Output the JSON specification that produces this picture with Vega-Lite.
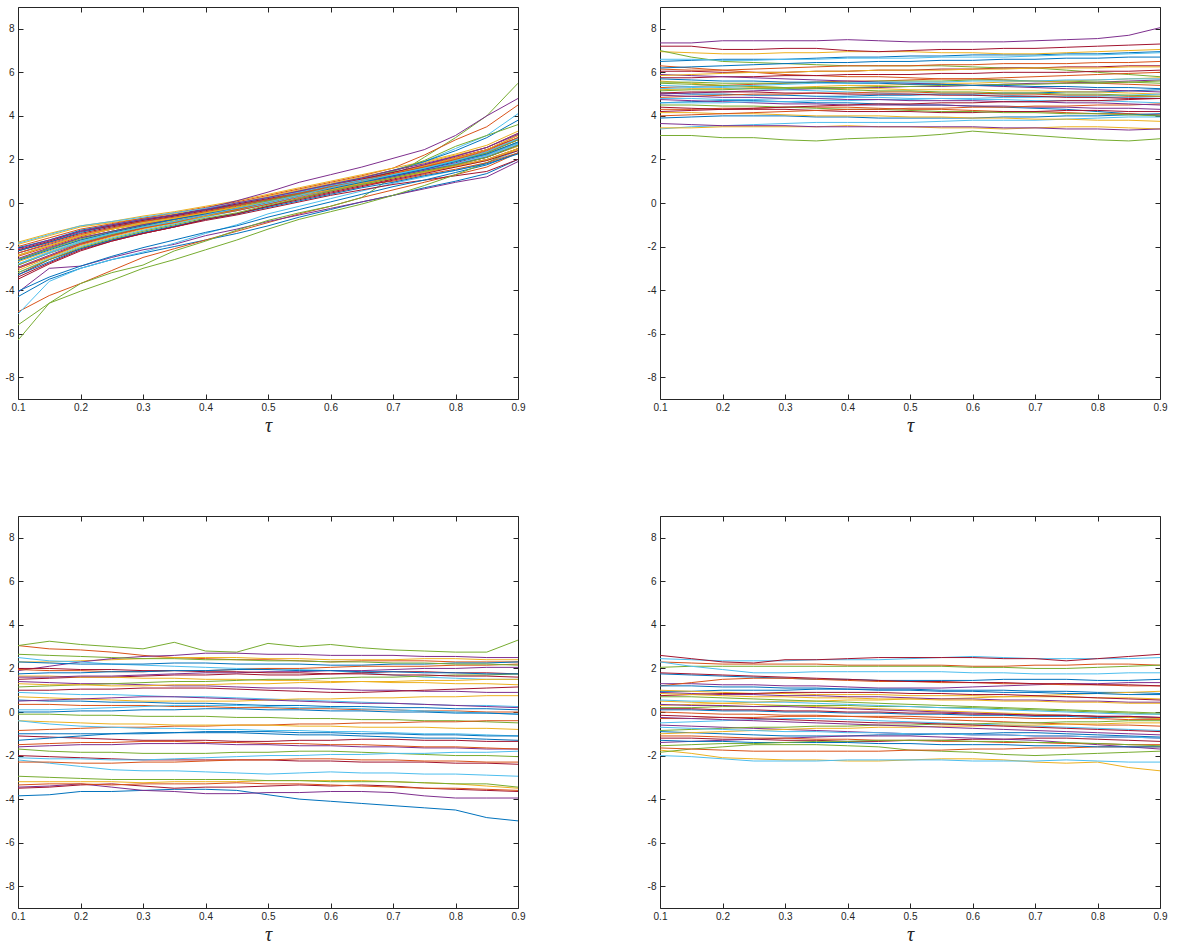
{
"$schema":"https://vega.github.io/schema/vega-lite/v6.json",
"padding":{"left":5,"top":6,"right":5,"bottom":5},
"background":"white",
"config":{"view":{"stroke":null},"concat":{"spacing":122},
"axis":{"grid":false,"domainColor":"#262626","tickColor":"#262626","labelColor":"#262626","labelFont":"Liberation Sans","labelFontSize":10,"tickSize":-5,"labelPadding":9,"labelFlush":false,"labelOverlap":false,"domainWidth":1,"tickWidth":1,"titleFont":"Liberation Serif","titleFontStyle":"italic","titleFontWeight":"normal","titleFontSize":20,"titleColor":"#262626","titlePadding":3},
"axisX":{"labelPadding":8}},
"datasets":{
"taus":[{"key":"a","t":0.1},{"key":"b","t":0.15},{"key":"c","t":0.2},{"key":"d","t":0.25},{"key":"e","t":0.3},{"key":"f","t":0.35},{"key":"g","t":0.4},{"key":"h","t":0.45},{"key":"i","t":0.5},{"key":"j","t":0.55},{"key":"k","t":0.6},{"key":"l","t":0.65},{"key":"m","t":0.7},{"key":"n","t":0.75},{"key":"o","t":0.8},{"key":"p","t":0.85},{"key":"q","t":0.9}],
"p1":[
{"s":1,"a":-4.3,"b":-3.5,"c":-3.0,"d":-2.6,"e":-2.3,"f":-2.0,"g":-1.7,"h":-1.4,"i":-1.05,"j":-0.65,"k":-0.3,"l":0.05,"m":0.35,"n":0.7,"o":1.0,"p":1.35,"q":2.0},
{"s":2,"a":-5.0,"b":-4.25,"c":-3.7,"d":-3.1,"e":-2.5,"f":-2.1,"g":-1.7,"h":-1.3,"i":-0.9,"j":-0.5,"k":-0.15,"l":0.25,"m":0.6,"n":0.95,"o":1.3,"p":1.65,"q":2.3},
{"s":3,"a":-1.9,"b":-1.5,"c":-1.1,"d":-0.9,"e":-0.7,"f":-0.5,"g":-0.25,"h":0.0,"i":0.3,"j":0.6,"k":0.9,"l":1.2,"m":1.5,"n":1.85,"o":2.2,"p":2.55,"q":3.2},
{"s":4,"a":-4.1,"b":-3.0,"c":-2.9,"d":-2.5,"e":-2.15,"f":-1.9,"g":-1.5,"h":-1.2,"i":-0.85,"j":-0.55,"k":-0.25,"l":0.05,"m":0.35,"n":0.65,"o":0.95,"p":1.2,"q":1.9},
{"s":5,"a":-6.3,"b":-4.6,"c":-3.7,"d":-3.2,"e":-2.85,"f":-2.2,"g":-1.75,"h":-1.25,"i":-0.8,"j":-0.45,"k":-0.15,"l":0.25,"m":1.2,"n":2.1,"o":3.0,"p":4.0,"q":5.5},
{"s":6,"a":-5.1,"b":-3.6,"c":-3.0,"d":-2.6,"e":-2.25,"f":-1.85,"g":-1.4,"h":-1.0,"i":-0.5,"j":-0.15,"k":0.2,"l":0.55,"m":0.9,"n":1.2,"o":1.5,"p":1.85,"q":2.4},
{"s":7,"a":-3.3,"b":-2.6,"c":-2.1,"d":-1.7,"e":-1.4,"f":-1.1,"g":-0.8,"h":-0.55,"i":-0.25,"j":0.05,"k":0.35,"l":0.6,"m":0.85,"n":1.05,"o":1.25,"p":1.45,"q":2.0},
{"s":8,"a":-4.05,"b":-3.4,"c":-2.9,"d":-2.45,"e":-2.05,"f":-1.7,"g":-1.35,"h":-1.05,"i":-0.65,"j":-0.3,"k":0.05,"l":0.4,"m":0.75,"n":1.05,"o":1.4,"p":1.75,"q":2.3},
{"s":9,"a":-2.0,"b":-1.6,"c":-1.2,"d":-0.95,"e":-0.7,"f":-0.45,"g":-0.2,"h":0.05,"i":0.35,"j":0.65,"k":0.95,"l":1.25,"m":1.6,"n":2.2,"o":2.9,"p":3.5,"q":4.5},
{"s":10,"a":-1.8,"b":-1.4,"c":-1.05,"d":-0.85,"e":-0.6,"f":-0.4,"g":-0.15,"h":0.1,"i":0.4,"j":0.7,"k":1.0,"l":1.3,"m":1.6,"n":1.9,"o":2.25,"p":2.65,"q":3.3},
{"s":11,"a":-2.3,"b":-1.9,"c":-1.5,"d":-1.2,"e":-0.9,"f":-0.6,"g":-0.25,"h":0.1,"i":0.5,"j":0.95,"k":1.3,"l":1.65,"m":2.05,"n":2.45,"o":3.1,"p":4.0,"q":4.8},
{"s":12,"a":-5.6,"b":-4.6,"c":-4.05,"d":-3.55,"e":-3.0,"f":-2.6,"g":-2.15,"h":-1.7,"i":-1.2,"j":-0.75,"k":-0.4,"l":-0.05,"m":0.35,"n":0.8,"o":1.3,"p":1.85,"q":2.5},
{"s":13,"a":-2.4,"b":-1.95,"c":-1.5,"d":-1.15,"e":-0.9,"f":-0.65,"g":-0.35,"h":-0.1,"i":0.2,"j":0.5,"k":0.8,"l":1.1,"m":1.45,"n":1.9,"o":2.5,"p":3.1,"q":4.1},
{"s":14,"a":-2.2,"b":-1.8,"c":-1.4,"d":-1.1,"e":-0.85,"f":-0.6,"g":-0.35,"h":-0.1,"i":0.15,"j":0.45,"k":0.75,"l":1.05,"m":1.35,"n":1.65,"o":1.95,"p":2.3,"q":2.9},
{"s":15,"a":-2.2,"b":-1.8,"c":-1.35,"d":-1.05,"e":-0.8,"f":-0.55,"g":-0.3,"h":-0.05,"i":0.25,"j":0.55,"k":0.85,"l":1.15,"m":1.5,"n":1.9,"o":2.4,"p":3.0,"q":3.8},
{"s":16,"a":-2.45,"b":-2.0,"c":-1.55,"d":-1.2,"e":-0.95,"f":-0.7,"g":-0.4,"h":-0.15,"i":0.15,"j":0.45,"k":0.8,"l":1.1,"m":1.4,"n":1.75,"o":2.1,"p":2.45,"q":3.1},
{"s":17,"a":-2.7,"b":-2.2,"c":-1.7,"d":-1.35,"e":-1.05,"f":-0.8,"g":-0.55,"h":-0.3,"i":0.0,"j":0.3,"k":0.6,"l":0.9,"m":1.2,"n":1.45,"o":1.75,"p":2.1,"q":2.6},
{"s":18,"a":-2.95,"b":-2.4,"c":-1.85,"d":-1.5,"e":-1.15,"f":-0.9,"g":-0.6,"h":-0.35,"i":-0.05,"j":0.3,"k":0.6,"l":0.95,"m":1.25,"n":1.55,"o":1.85,"p":2.2,"q":2.75},
{"s":19,"a":-2.6,"b":-2.1,"c":-1.6,"d":-1.3,"e":-1.0,"f":-0.75,"g":-0.45,"h":-0.2,"i":0.1,"j":0.4,"k":0.75,"l":1.05,"m":1.45,"n":1.95,"o":2.6,"p":3.1,"q":3.6},
{"s":20,"a":-3.2,"b":-2.55,"c":-2.0,"d":-1.6,"e":-1.25,"f":-0.95,"g":-0.65,"h":-0.35,"i":0.0,"j":0.35,"k":0.65,"l":1.0,"m":1.3,"n":1.6,"o":1.95,"p":2.35,"q":2.95},
{"s":21,"a":-3.4,"b":-2.75,"c":-2.15,"d":-1.75,"e":-1.4,"f":-1.1,"g":-0.75,"h":-0.5,"i":-0.15,"j":0.2,"k":0.5,"l":0.8,"m":1.1,"n":1.4,"o":1.7,"p":2.0,"q":2.5},
{"s":22,"a":-2.05,"b":-1.7,"c":-1.25,"d":-1.0,"e":-0.75,"f":-0.55,"g":-0.3,"h":-0.1,"i":0.15,"j":0.4,"k":0.7,"l":0.95,"m":1.25,"n":1.5,"o":1.8,"p":2.1,"q":2.65},
{"s":23,"a":-2.85,"b":-2.3,"c":-1.85,"d":-1.45,"e":-1.15,"f":-0.9,"g":-0.6,"h":-0.35,"i":-0.05,"j":0.25,"k":0.55,"l":0.85,"m":1.0,"n":1.3,"o":1.55,"p":1.85,"q":2.3},
{"s":24,"a":-2.4,"b":-1.95,"c":-1.5,"d":-1.2,"e":-0.95,"f":-0.7,"g":-0.45,"h":-0.2,"i":0.05,"j":0.35,"k":0.6,"l":0.85,"m":1.15,"n":1.4,"o":1.65,"p":1.95,"q":2.45},
{"s":25,"a":-3.0,"b":-2.45,"c":-1.9,"d":-1.5,"e":-1.15,"f":-0.85,"g":-0.55,"h":-0.25,"i":0.05,"j":0.4,"k":0.7,"l":1.05,"m":1.4,"n":1.75,"o":2.15,"p":2.55,"q":3.2},
{"s":26,"a":-2.6,"b":-2.1,"c":-1.65,"d":-1.3,"e":-1.0,"f":-0.75,"g":-0.45,"h":-0.2,"i":0.1,"j":0.4,"k":0.7,"l":1.0,"m":1.3,"n":1.6,"o":1.9,"p":2.25,"q":2.8},
{"s":27,"a":-2.8,"b":-2.25,"c":-1.75,"d":-1.4,"e":-1.1,"f":-0.85,"g":-0.55,"h":-0.3,"i":0.0,"j":0.3,"k":0.6,"l":0.9,"m":1.2,"n":1.5,"o":1.8,"p":2.15,"q":2.7},
{"s":28,"a":-2.15,"b":-1.75,"c":-1.3,"d":-1.05,"e":-0.8,"f":-0.55,"g":-0.3,"h":-0.05,"i":0.2,"j":0.5,"k":0.8,"l":1.1,"m":1.4,"n":1.7,"o":2.05,"p":2.45,"q":3.0},
{"s":29,"a":-3.3,"b":-2.7,"c":-2.1,"d":-1.7,"e":-1.35,"f":-1.05,"g":-0.75,"h":-0.5,"i":-0.2,"j":0.1,"k":0.4,"l":0.7,"m":0.95,"n":1.25,"o":1.5,"p":1.8,"q":2.25},
{"s":30,"a":-2.3,"b":-1.85,"c":-1.45,"d":-1.15,"e":-0.85,"f":-0.65,"g":-0.4,"h":-0.1,"i":0.15,"j":0.45,"k":0.75,"l":1.05,"m":1.35,"n":1.65,"o":2.0,"p":2.35,"q":2.9},
{"s":31,"a":-3.1,"b":-2.5,"c":-1.95,"d":-1.55,"e":-1.2,"f":-0.9,"g":-0.6,"h":-0.3,"i":0.05,"j":0.35,"k":0.7,"l":1.0,"m":1.35,"n":1.7,"o":2.05,"p":2.45,"q":3.1},
{"s":32,"a":-2.55,"b":-2.05,"c":-1.6,"d":-1.3,"e":-1.0,"f":-0.75,"g":-0.5,"h":-0.25,"i":0.05,"j":0.35,"k":0.6,"l":0.9,"m":1.2,"n":1.5,"o":1.75,"p":2.1,"q":2.65},
{"s":33,"a":-2.85,"b":-2.3,"c":-1.8,"d":-1.45,"e":-1.1,"f":-0.85,"g":-0.55,"h":-0.3,"i":0.05,"j":0.35,"k":0.65,"l":0.95,"m":1.3,"n":1.6,"o":1.95,"p":2.3,"q":2.9},
{"s":34,"a":-1.85,"b":-1.45,"c":-1.05,"d":-0.85,"e":-0.65,"f":-0.45,"g":-0.25,"h":0.0,"i":0.25,"j":0.5,"k":0.8,"l":1.05,"m":1.3,"n":1.6,"o":1.9,"p":2.2,"q":2.75},
{"s":35,"a":-3.5,"b":-2.8,"c":-2.2,"d":-1.75,"e":-1.4,"f":-1.1,"g":-0.75,"h":-0.5,"i":-0.15,"j":0.15,"k":0.45,"l":0.75,"m":1.05,"n":1.35,"o":1.65,"p":1.95,"q":2.4},
{"s":36,"a":-2.65,"b":-2.15,"c":-1.7,"d":-1.35,"e":-1.05,"f":-0.75,"g":-0.5,"h":-0.25,"i":0.05,"j":0.35,"k":0.65,"l":0.95,"m":1.25,"n":1.55,"o":1.9,"p":2.25,"q":2.8},
{"s":37,"a":-3.0,"b":-2.45,"c":-1.9,"d":-1.5,"e":-1.15,"f":-0.9,"g":-0.55,"h":-0.3,"i":0.05,"j":0.35,"k":0.7,"l":1.0,"m":1.35,"n":1.65,"o":2.0,"p":2.4,"q":3.0},
{"s":38,"a":-2.4,"b":-1.95,"c":-1.5,"d":-1.2,"e":-0.9,"f":-0.7,"g":-0.45,"h":-0.2,"i":0.05,"j":0.35,"k":0.6,"l":0.9,"m":1.15,"n":1.45,"o":1.7,"p":2.0,"q":2.5},
{"s":39,"a":-2.1,"b":-1.7,"c":-1.3,"d":-1.0,"e":-0.75,"f":-0.55,"g":-0.3,"h":0.0,"i":0.25,"j":0.55,"k":0.85,"l":1.15,"m":1.5,"n":1.8,"o":2.15,"p":2.55,"q":3.15},
{"s":40,"a":-3.2,"b":-2.6,"c":-2.05,"d":-1.65,"e":-1.3,"f":-1.0,"g":-0.7,"h":-0.45,"i":-0.1,"j":0.2,"k":0.55,"l":0.85,"m":1.15,"n":1.45,"o":1.75,"p":2.1,"q":2.65},
{"s":41,"a":-2.8,"b":-2.3,"c":-1.8,"d":-1.4,"e":-1.1,"f":-0.85,"g":-0.55,"h":-0.25,"i":0.05,"j":0.35,"k":0.7,"l":1.0,"m":1.3,"n":1.6,"o":1.95,"p":2.35,"q":2.95}
],
"p2":[
{"s":1,"a":6.5,"b":6.55,"c":6.6,"d":6.6,"e":6.6,"f":6.65,"g":6.7,"h":6.7,"i":6.75,"j":6.75,"k":6.8,"l":6.8,"m":6.8,"n":6.85,"o":6.85,"p":6.9,"q":6.95},
{"s":2,"a":6.3,"b":6.2,"c":6.1,"d":6.0,"e":5.9,"f":5.85,"g":5.8,"h":5.8,"i":5.75,"j":5.7,"k":5.7,"l":5.65,"m":5.6,"n":5.55,"o":5.5,"p":5.45,"q":5.4},
{"s":3,"a":6.95,"b":6.9,"c":6.85,"d":6.85,"e":6.9,"f":6.9,"g":6.95,"h":6.95,"i":6.95,"j":6.9,"k":6.9,"l":6.85,"m":6.85,"n":6.9,"o":6.95,"p":7.0,"q":7.05},
{"s":4,"a":7.35,"b":7.35,"c":7.45,"d":7.45,"e":7.45,"f":7.45,"g":7.5,"h":7.45,"i":7.4,"j":7.4,"k":7.4,"l":7.4,"m":7.45,"n":7.5,"o":7.55,"p":7.7,"q":8.05},
{"s":5,"a":7.0,"b":6.7,"c":6.5,"d":6.45,"e":6.4,"f":6.35,"g":6.3,"h":6.3,"i":6.3,"j":6.3,"k":6.25,"l":6.2,"m":6.2,"n":6.1,"o":6.0,"p":5.9,"q":5.8},
{"s":6,"a":3.4,"b":3.5,"c":3.55,"d":3.6,"e":3.65,"f":3.7,"g":3.7,"h":3.7,"i":3.7,"j":3.75,"k":3.8,"l":3.8,"m":3.8,"n":3.85,"o":3.9,"p":3.95,"q":3.95},
{"s":7,"a":7.2,"b":7.2,"c":7.05,"d":7.05,"e":7.1,"f":7.1,"g":7.0,"h":6.95,"i":7.0,"j":7.05,"k":7.05,"l":7.1,"m":7.1,"n":7.15,"o":7.2,"p":7.25,"q":7.3},
{"s":8,"a":4.6,"b":4.65,"c":4.7,"d":4.7,"e":4.65,"f":4.6,"g":4.6,"h":4.55,"i":4.5,"j":4.5,"k":4.45,"l":4.4,"m":4.35,"n":4.3,"o":4.2,"p":4.1,"q":4.0},
{"s":9,"a":5.3,"b":5.35,"c":5.4,"d":5.45,"e":5.5,"f":5.55,"g":5.6,"h":5.6,"i":5.65,"j":5.7,"k":5.7,"l":5.75,"m":5.8,"n":5.85,"o":5.9,"p":5.95,"q":6.0},
{"s":10,"a":3.45,"b":3.45,"c":3.5,"d":3.5,"e":3.5,"f":3.5,"g":3.55,"h":3.5,"i":3.5,"j":3.45,"k":3.45,"l":3.4,"m":3.45,"n":3.5,"o":3.5,"p":3.45,"q":3.4},
{"s":11,"a":3.65,"b":3.6,"c":3.55,"d":3.55,"e":3.55,"f":3.5,"g":3.5,"h":3.5,"i":3.5,"j":3.5,"k":3.5,"l":3.45,"m":3.45,"n":3.4,"o":3.4,"p":3.35,"q":3.4},
{"s":12,"a":3.1,"b":3.1,"c":3.0,"d":3.0,"e":2.9,"f":2.85,"g":2.95,"h":3.0,"i":3.05,"j":3.15,"k":3.3,"l":3.2,"m":3.1,"n":3.0,"o":2.9,"p":2.85,"q":2.95},
{"s":13,"a":6.6,"b":6.6,"c":6.55,"d":6.55,"e":6.6,"f":6.6,"g":6.65,"h":6.65,"i":6.65,"j":6.7,"k":6.7,"l":6.7,"m":6.75,"n":6.8,"o":6.8,"p":6.85,"q":6.9},
{"s":14,"a":6.05,"b":6.05,"c":6.0,"d":6.0,"e":6.0,"f":6.05,"g":6.05,"h":6.1,"i":6.1,"j":6.15,"k":6.15,"l":6.2,"m":6.2,"n":6.25,"o":6.25,"p":6.3,"q":6.3},
{"s":15,"a":5.05,"b":5.0,"c":5.0,"d":4.95,"e":4.95,"f":4.9,"g":4.9,"h":4.95,"i":4.95,"j":5.0,"k":5.0,"l":5.05,"m":5.05,"n":5.1,"o":5.1,"p":5.15,"q":5.2},
{"s":16,"a":4.3,"b":4.3,"c":4.35,"d":4.35,"e":4.4,"f":4.4,"g":4.4,"h":4.35,"i":4.3,"j":4.3,"k":4.25,"l":4.2,"m":4.2,"n":4.15,"o":4.1,"p":4.1,"q":4.05},
{"s":17,"a":5.6,"b":5.5,"c":5.4,"d":5.35,"e":5.3,"f":5.3,"g":5.25,"h":5.25,"i":5.2,"j":5.2,"k":5.2,"l":5.15,"m":5.15,"n":5.1,"o":5.1,"p":5.05,"q":5.0},
{"s":18,"a":5.0,"b":5.05,"c":5.1,"d":5.15,"e":5.2,"f":5.25,"g":5.3,"h":5.3,"i":5.35,"j":5.35,"k":5.4,"l":5.45,"m":5.5,"n":5.5,"o":5.55,"p":5.6,"q":5.65},
{"s":19,"a":5.55,"b":5.55,"c":5.5,"d":5.5,"e":5.5,"f":5.55,"g":5.55,"h":5.6,"i":5.6,"j":5.6,"k":5.65,"l":5.65,"m":5.6,"n":5.6,"o":5.55,"p":5.55,"q":5.5},
{"s":20,"a":4.8,"b":4.8,"c":4.75,"d":4.75,"e":4.8,"f":4.8,"g":4.85,"h":4.85,"i":4.8,"j":4.8,"k":4.75,"l":4.75,"m":4.7,"n":4.7,"o":4.7,"p":4.65,"q":4.6},
{"s":21,"a":4.4,"b":4.35,"c":4.3,"d":4.3,"e":4.3,"f":4.25,"g":4.2,"h":4.2,"i":4.2,"j":4.15,"k":4.15,"l":4.2,"m":4.2,"n":4.25,"o":4.25,"p":4.2,"q":4.2},
{"s":22,"a":3.9,"b":3.95,"c":4.0,"d":4.0,"e":4.0,"f":3.95,"g":3.95,"h":3.9,"i":3.9,"j":3.9,"k":3.9,"l":3.95,"m":3.95,"n":4.0,"o":4.0,"p":4.05,"q":4.1},
{"s":23,"a":6.15,"b":6.1,"c":6.1,"d":6.15,"e":6.2,"f":6.25,"g":6.3,"h":6.3,"i":6.3,"j":6.35,"k":6.35,"l":6.4,"m":6.4,"n":6.4,"o":6.45,"p":6.45,"q":6.5},
{"s":24,"a":5.2,"b":5.25,"c":5.25,"d":5.3,"e":5.3,"f":5.35,"g":5.4,"h":5.4,"i":5.45,"j":5.5,"k":5.5,"l":5.55,"m":5.6,"n":5.6,"o":5.65,"p":5.7,"q":5.75},
{"s":25,"a":4.75,"b":4.7,"c":4.65,"d":4.6,"e":4.55,"f":4.55,"g":4.5,"h":4.5,"i":4.5,"j":4.5,"k":4.45,"l":4.45,"m":4.4,"n":4.4,"o":4.35,"p":4.35,"q":4.3},
{"s":26,"a":4.5,"b":4.5,"c":4.45,"d":4.45,"e":4.4,"f":4.35,"g":4.3,"h":4.3,"i":4.25,"j":4.2,"k":4.2,"l":4.15,"m":4.15,"n":4.1,"o":4.1,"p":4.05,"q":4.0},
{"s":27,"a":5.4,"b":5.35,"c":5.3,"d":5.25,"e":5.2,"f":5.15,"g":5.1,"h":5.05,"i":5.0,"j":5.0,"k":4.95,"l":4.95,"m":4.9,"n":4.9,"o":4.85,"p":4.85,"q":4.8},
{"s":28,"a":5.75,"b":5.75,"c":5.8,"d":5.8,"e":5.85,"f":5.85,"g":5.9,"h":5.9,"i":5.9,"j":5.95,"k":5.95,"l":6.0,"m":6.0,"n":6.0,"o":6.05,"p":6.05,"q":6.1},
{"s":29,"a":6.2,"b":6.25,"c":6.3,"d":6.35,"e":6.4,"f":6.45,"g":6.45,"h":6.5,"i":6.5,"j":6.55,"k":6.55,"l":6.6,"m":6.6,"n":6.65,"o":6.65,"p":6.7,"q":6.7},
{"s":30,"a":4.85,"b":4.9,"c":4.95,"d":5.0,"e":5.0,"f":5.05,"g":5.05,"h":5.1,"i":5.1,"j":5.05,"k":5.05,"l":5.0,"m":5.0,"n":4.95,"o":4.95,"p":4.9,"q":4.9},
{"s":31,"a":4.15,"b":4.15,"c":4.1,"d":4.1,"e":4.05,"f":4.0,"g":4.0,"h":4.0,"i":3.95,"j":3.95,"k":3.9,"l":3.9,"m":3.85,"n":3.85,"o":3.8,"p":3.8,"q":3.75},
{"s":32,"a":5.9,"b":5.85,"c":5.8,"d":5.75,"e":5.7,"f":5.65,"g":5.6,"h":5.55,"i":5.5,"j":5.45,"k":5.4,"l":5.35,"m":5.3,"n":5.25,"o":5.2,"p":5.15,"q":5.1},
{"s":33,"a":5.15,"b":5.2,"c":5.2,"d":5.25,"e":5.25,"f":5.3,"g":5.3,"h":5.35,"i":5.35,"j":5.4,"k":5.4,"l":5.45,"m":5.45,"n":5.5,"o":5.5,"p":5.55,"q":5.6},
{"s":34,"a":4.6,"b":4.6,"c":4.6,"d":4.65,"e":4.65,"f":4.7,"g":4.7,"h":4.75,"i":4.75,"j":4.8,"k":4.8,"l":4.85,"m":4.85,"n":4.9,"o":4.9,"p":4.95,"q":5.0},
{"s":35,"a":5.05,"b":5.1,"c":5.1,"d":5.1,"e":5.05,"f":5.05,"g":5.0,"h":5.0,"i":5.0,"j":4.95,"k":4.95,"l":4.9,"m":4.9,"n":4.85,"o":4.85,"p":4.8,"q":4.8},
{"s":36,"a":5.7,"b":5.65,"c":5.6,"d":5.6,"e":5.55,"f":5.55,"g":5.5,"h":5.5,"i":5.45,"j":5.45,"k":5.4,"l":5.4,"m":5.35,"n":5.35,"o":5.3,"p":5.3,"q":5.25},
{"s":37,"a":4.0,"b":4.05,"c":4.1,"d":4.15,"e":4.2,"f":4.25,"g":4.3,"h":4.3,"i":4.35,"j":4.35,"k":4.4,"l":4.4,"m":4.45,"n":4.45,"o":4.5,"p":4.5,"q":4.55},
{"s":38,"a":5.85,"b":5.9,"c":5.95,"d":6.0,"e":6.0,"f":6.05,"g":6.05,"h":6.1,"i":6.1,"j":6.1,"k":6.15,"l":6.15,"m":6.2,"n":6.2,"o":6.2,"p":6.25,"q":6.25},
{"s":39,"a":4.95,"b":4.9,"c":4.85,"d":4.85,"e":4.8,"f":4.8,"g":4.75,"h":4.75,"i":4.7,"j":4.7,"k":4.7,"l":4.65,"m":4.65,"n":4.6,"o":4.6,"p":4.55,"q":4.5},
{"s":40,"a":5.5,"b":5.45,"c":5.4,"d":5.35,"e":5.3,"f":5.25,"g":5.2,"h":5.15,"i":5.15,"j":5.1,"k":5.1,"l":5.05,"m":5.05,"n":5.0,"o":5.0,"p":4.95,"q":4.9},
{"s":41,"a":5.25,"b":5.3,"c":5.35,"d":5.4,"e":5.45,"f":5.5,"g":5.5,"h":5.55,"i":5.55,"j":5.55,"k":5.6,"l":5.6,"m":5.6,"n":5.65,"o":5.65,"p":5.7,"q":5.7},
{"s":42,"a":4.2,"b":4.25,"c":4.3,"d":4.35,"e":4.4,"f":4.45,"g":4.5,"h":4.55,"i":4.55,"j":4.6,"k":4.6,"l":4.65,"m":4.65,"n":4.7,"o":4.7,"p":4.75,"q":4.8}
],
"p3":[
{"s":1,"a":-3.85,"b":-3.8,"c":-3.65,"d":-3.65,"e":-3.6,"f":-3.55,"g":-3.55,"h":-3.6,"i":-3.8,"j":-4.0,"k":-4.1,"l":-4.2,"m":-4.3,"n":-4.4,"o":-4.5,"p":-4.85,"q":-5.0},
{"s":2,"a":3.05,"b":2.9,"c":2.85,"d":2.75,"e":2.6,"f":2.5,"g":2.45,"h":2.4,"i":2.4,"j":2.35,"k":2.3,"l":2.35,"m":2.35,"n":2.35,"o":2.3,"p":2.3,"q":2.3},
{"s":3,"a":-3.2,"b":-3.2,"c":-3.2,"d":-3.2,"e":-3.25,"f":-3.2,"g":-3.2,"h":-3.2,"i":-3.15,"j":-3.15,"k":-3.15,"l":-3.15,"m":-3.2,"n":-3.25,"o":-3.3,"p":-3.4,"q":-3.5},
{"s":4,"a":-3.45,"b":-3.4,"c":-3.3,"d":-3.45,"e":-3.6,"f":-3.65,"g":-3.75,"h":-3.75,"i":-3.7,"j":-3.7,"k":-3.65,"l":-3.65,"m":-3.7,"n":-3.85,"o":-3.95,"p":-3.95,"q":-3.95},
{"s":5,"a":3.05,"b":3.25,"c":3.1,"d":3.0,"e":2.9,"f":3.2,"g":2.8,"h":2.75,"i":3.15,"j":3.0,"k":3.1,"l":2.95,"m":2.85,"n":2.8,"o":2.75,"p":2.75,"q":3.3},
{"s":6,"a":-2.2,"b":-2.35,"c":-2.5,"d":-2.65,"e":-2.7,"f":-2.7,"g":-2.75,"h":-2.8,"i":-2.85,"j":-2.8,"k":-2.75,"l":-2.8,"m":-2.8,"n":-2.85,"o":-2.85,"p":-2.9,"q":-2.95},
{"s":7,"a":-3.5,"b":-3.45,"c":-3.35,"d":-3.3,"e":-3.4,"f":-3.5,"g":-3.45,"h":-3.45,"i":-3.4,"j":-3.35,"k":-3.4,"l":-3.35,"m":-3.4,"n":-3.5,"o":-3.55,"p":-3.6,"q":-3.65},
{"s":8,"a":-1.0,"b":-1.0,"c":-1.0,"d":-1.0,"e":-1.0,"f":-0.95,"g":-0.95,"h":-0.95,"i":-1.0,"j":-1.05,"k":-1.05,"l":-1.1,"m":-1.15,"n":-1.2,"o":-1.2,"p":-1.25,"q":-1.3},
{"s":9,"a":-3.35,"b":-3.3,"c":-3.3,"d":-3.35,"e":-3.3,"f":-3.3,"g":-3.3,"h":-3.25,"i":-3.3,"j":-3.3,"k":-3.35,"l":-3.4,"m":-3.45,"n":-3.5,"o":-3.5,"p":-3.55,"q":-3.6},
{"s":10,"a":2.3,"b":2.3,"c":2.35,"d":2.4,"e":2.45,"f":2.5,"g":2.5,"h":2.5,"i":2.45,"j":2.45,"k":2.4,"l":2.4,"m":2.4,"n":2.45,"o":2.45,"p":2.4,"q":2.4},
{"s":11,"a":1.9,"b":2.1,"c":2.3,"d":2.45,"e":2.55,"f":2.6,"g":2.7,"h":2.7,"i":2.65,"j":2.65,"k":2.6,"l":2.6,"m":2.6,"n":2.55,"o":2.55,"p":2.5,"q":2.5},
{"s":12,"a":-2.95,"b":-3.0,"c":-3.05,"d":-3.1,"e":-3.1,"f":-3.1,"g":-3.1,"h":-3.1,"i":-3.15,"j":-3.15,"k":-3.2,"l":-3.2,"m":-3.2,"n":-3.25,"o":-3.3,"p":-3.3,"q":-3.45},
{"s":13,"a":2.5,"b":2.35,"c":2.3,"d":2.2,"e":2.15,"f":2.1,"g":2.05,"h":2.0,"i":2.0,"j":1.95,"k":1.9,"l":1.8,"m":1.7,"n":1.6,"o":1.55,"p":1.5,"q":1.5},
{"s":14,"a":1.5,"b":1.55,"c":1.6,"d":1.6,"e":1.65,"f":1.7,"g":1.7,"h":1.75,"i":1.7,"j":1.7,"k":1.75,"l":1.8,"m":1.85,"n":1.85,"o":1.8,"p":1.8,"q":1.75},
{"s":15,"a":2.3,"b":2.25,"c":2.2,"d":2.2,"e":2.2,"f":2.25,"g":2.25,"h":2.2,"i":2.2,"j":2.2,"k":2.15,"l":2.15,"m":2.2,"n":2.2,"o":2.25,"p":2.25,"q":2.3},
{"s":16,"a":1.95,"b":1.9,"c":1.9,"d":1.85,"e":1.85,"f":1.9,"g":1.9,"h":1.95,"i":2.0,"j":2.0,"k":2.05,"l":2.1,"m":2.1,"n":2.1,"o":2.15,"p":2.15,"q":2.2},
{"s":17,"a":1.65,"b":1.65,"c":1.6,"d":1.6,"e":1.55,"f":1.55,"g":1.5,"h":1.5,"i":1.45,"j":1.45,"k":1.4,"l":1.4,"m":1.35,"n":1.35,"o":1.3,"p":1.3,"q":1.25},
{"s":18,"a":1.4,"b":1.35,"c":1.3,"d":1.3,"e":1.25,"f":1.2,"g":1.2,"h":1.15,"i":1.1,"j":1.1,"k":1.05,"l":1.0,"m":1.0,"n":0.95,"o":0.95,"p":0.9,"q":0.9},
{"s":19,"a":1.15,"b":1.2,"c":1.25,"d":1.3,"e":1.35,"f":1.4,"g":1.4,"h":1.45,"i":1.5,"j":1.5,"k":1.55,"l":1.6,"m":1.6,"n":1.65,"o":1.7,"p":1.7,"q":1.75},
{"s":20,"a":0.9,"b":0.85,"c":0.8,"d":0.8,"e":0.75,"f":0.7,"g":0.7,"h":0.65,"i":0.6,"j":0.55,"k":0.5,"l":0.45,"m":0.4,"n":0.35,"o":0.3,"p":0.3,"q":0.25},
{"s":21,"a":1.0,"b":1.0,"c":1.05,"d":1.05,"e":1.1,"f":1.1,"g":1.1,"h":1.05,"i":1.0,"j":0.95,"k":0.9,"l":0.9,"m":0.95,"n":1.0,"o":1.05,"p":1.1,"q":1.15},
{"s":22,"a":0.55,"b":0.5,"c":0.5,"d":0.45,"e":0.45,"f":0.4,"g":0.4,"h":0.35,"i":0.3,"j":0.3,"k":0.25,"l":0.25,"m":0.2,"n":0.2,"o":0.15,"p":0.15,"q":0.1},
{"s":23,"a":0.35,"b":0.35,"c":0.3,"d":0.3,"e":0.3,"f":0.25,"g":0.25,"h":0.2,"i":0.2,"j":0.15,"k":0.15,"l":0.1,"m":0.1,"n":0.05,"o":0.05,"p":0.0,"q":0.0},
{"s":24,"a":0.7,"b":0.65,"c":0.6,"d":0.55,"e":0.5,"f":0.5,"g":0.5,"h":0.5,"i":0.55,"j":0.6,"k":0.6,"l":0.65,"m":0.65,"n":0.7,"o":0.7,"p":0.75,"q":0.75},
{"s":25,"a":0.5,"b":0.55,"c":0.6,"d":0.65,"e":0.7,"f":0.7,"g":0.65,"h":0.6,"i":0.55,"j":0.5,"k":0.45,"l":0.4,"m":0.4,"n":0.35,"o":0.3,"p":0.25,"q":0.2},
{"s":26,"a":-0.1,"b":-0.1,"c":-0.15,"d":-0.15,"e":-0.2,"f":-0.2,"g":-0.2,"h":-0.25,"i":-0.25,"j":-0.3,"k":-0.3,"l":-0.35,"m":-0.35,"n":-0.4,"o":-0.4,"p":-0.45,"q":-0.5},
{"s":27,"a":0.1,"b":0.1,"c":0.15,"d":0.2,"e":0.25,"f":0.3,"g":0.3,"h":0.3,"i":0.25,"j":0.2,"k":0.2,"l":0.15,"m":0.1,"n":0.05,"o":0.0,"p":-0.05,"q":-0.1},
{"s":28,"a":-1.1,"b":-1.15,"c":-1.2,"d":-1.25,"e":-1.3,"f":-1.3,"g":-1.3,"h":-1.35,"i":-1.35,"j":-1.3,"k":-1.3,"l":-1.25,"m":-1.25,"n":-1.3,"o":-1.3,"p":-1.35,"q":-1.35},
{"s":29,"a":0.0,"b":0.0,"c":0.05,"d":0.05,"e":0.1,"f":0.1,"g":0.15,"h":0.15,"i":0.1,"j":0.1,"k":0.05,"l":0.05,"m":0.0,"n":0.0,"o":-0.05,"p":-0.05,"q":-0.1},
{"s":30,"a":-0.85,"b":-0.8,"c":-0.75,"d":-0.7,"e":-0.7,"f":-0.65,"g":-0.65,"h":-0.6,"i":-0.6,"j":-0.55,"k":-0.55,"l":-0.5,"m":-0.5,"n":-0.45,"o":-0.45,"p":-0.4,"q":-0.4},
{"s":31,"a":-0.4,"b":-0.45,"c":-0.5,"d":-0.55,"e":-0.55,"f":-0.6,"g":-0.6,"h":-0.6,"i":-0.6,"j":-0.65,"k":-0.65,"l":-0.7,"m":-0.7,"n":-0.7,"o":-0.75,"p":-0.75,"q":-0.8},
{"s":32,"a":-1.6,"b":-1.55,"c":-1.5,"d":-1.5,"e":-1.45,"f":-1.45,"g":-1.45,"h":-1.5,"i":-1.5,"j":-1.55,"k":-1.55,"l":-1.6,"m":-1.6,"n":-1.65,"o":-1.65,"p":-1.7,"q":-1.7},
{"s":33,"a":-1.7,"b":-1.8,"c":-1.85,"d":-1.85,"e":-1.9,"f":-1.9,"g":-1.9,"h":-1.85,"i":-1.85,"j":-1.8,"k":-1.8,"l":-1.85,"m":-1.9,"n":-1.95,"o":-2.0,"p":-2.0,"q":-2.05},
{"s":34,"a":-0.4,"b":-0.55,"c":-0.65,"d":-0.7,"e":-0.75,"f":-0.75,"g":-0.8,"h":-0.8,"i":-0.85,"j":-0.85,"k":-0.9,"l":-0.9,"m":-0.95,"n":-1.0,"o":-1.0,"p":-1.05,"q":-1.1},
{"s":35,"a":-2.0,"b":-2.05,"c":-2.1,"d":-2.15,"e":-2.2,"f":-2.2,"g":-2.2,"h":-2.2,"i":-2.2,"j":-2.25,"k":-2.25,"l":-2.3,"m":-2.3,"n":-2.3,"o":-2.35,"p":-2.35,"q":-2.4},
{"s":36,"a":-1.3,"b":-1.2,"c":-1.1,"d":-1.0,"e":-0.95,"f":-0.95,"g":-0.9,"h":-0.9,"i":-0.9,"j":-0.95,"k":-0.95,"l":-1.0,"m":-1.0,"n":-1.05,"o":-1.05,"p":-1.1,"q":-1.1},
{"s":37,"a":-2.3,"b":-2.3,"c":-2.35,"d":-2.35,"e":-2.3,"f":-2.3,"g":-2.25,"h":-2.2,"i":-2.2,"j":-2.15,"k":-2.15,"l":-2.2,"m":-2.2,"n":-2.25,"o":-2.25,"p":-2.3,"q":-2.3},
{"s":38,"a":1.3,"b":1.25,"c":1.25,"d":1.2,"e":1.2,"f":1.25,"g":1.25,"h":1.3,"i":1.3,"j":1.35,"k":1.35,"l":1.4,"m":1.4,"n":1.45,"o":1.45,"p":1.5,"q":1.5},
{"s":39,"a":1.6,"b":1.6,"c":1.65,"d":1.65,"e":1.7,"f":1.75,"g":1.8,"h":1.8,"i":1.85,"j":1.85,"k":1.9,"l":1.9,"m":1.95,"n":2.0,"o":2.0,"p":2.05,"q":2.05},
{"s":40,"a":2.65,"b":2.6,"c":2.55,"d":2.5,"e":2.45,"f":2.45,"g":2.4,"h":2.4,"i":2.35,"j":2.35,"k":2.3,"l":2.3,"m":2.25,"n":2.25,"o":2.2,"p":2.2,"q":2.15},
{"s":41,"a":-2.1,"b":-2.15,"c":-2.15,"d":-2.2,"e":-2.2,"f":-2.15,"g":-2.1,"h":-2.05,"i":-2.0,"j":-2.0,"k":-1.95,"l":-1.95,"m":-1.9,"n":-1.9,"o":-1.85,"p":-1.85,"q":-1.8},
{"s":42,"a":2.0,"b":2.0,"c":1.95,"d":1.95,"e":1.9,"f":1.9,"g":1.85,"h":1.85,"i":1.8,"j":1.8,"k":1.75,"l":1.75,"m":1.7,"n":1.7,"o":1.65,"p":1.65,"q":1.6},
{"s":43,"a":1.75,"b":1.8,"c":1.8,"d":1.85,"e":1.85,"f":1.9,"g":1.9,"h":1.95,"i":1.95,"j":1.9,"k":1.9,"l":1.85,"m":1.85,"n":1.8,"o":1.8,"p":1.75,"q":1.75},
{"s":44,"a":-1.5,"b":-1.45,"c":-1.4,"d":-1.4,"e":-1.35,"f":-1.35,"g":-1.4,"h":-1.4,"i":-1.45,"j":-1.45,"k":-1.5,"l":-1.5,"m":-1.55,"n":-1.6,"o":-1.6,"p":-1.65,"q":-1.7}
],
"p4":[
{"s":1,"a":1.75,"b":1.7,"c":1.65,"d":1.6,"e":1.55,"f":1.5,"g":1.5,"h":1.45,"i":1.45,"j":1.45,"k":1.45,"l":1.5,"m":1.5,"n":1.5,"o":1.45,"p":1.45,"q":1.5},
{"s":2,"a":2.3,"b":2.25,"c":2.2,"d":2.2,"e":2.2,"f":2.2,"g":2.15,"h":2.15,"i":2.15,"j":2.15,"k":2.1,"l":2.1,"m":2.15,"n":2.15,"o":2.2,"p":2.2,"q":2.15},
{"s":3,"a":-1.75,"b":-1.9,"c":-2.1,"d":-2.15,"e":-2.2,"f":-2.2,"g":-2.25,"h":-2.25,"i":-2.2,"j":-2.15,"k":-2.15,"l":-2.2,"m":-2.3,"n":-2.35,"o":-2.3,"p":-2.55,"q":-2.7},
{"s":4,"a":1.3,"b":1.3,"c":1.25,"d":1.25,"e":1.2,"f":1.2,"g":1.15,"h":1.1,"i":1.1,"j":1.1,"k":1.15,"l":1.2,"m":1.25,"n":1.3,"o":1.3,"p":1.35,"q":1.35},
{"s":5,"a":2.05,"b":2.1,"c":2.1,"d":2.1,"e":2.1,"f":2.1,"g":2.1,"h":2.1,"i":2.1,"j":2.1,"k":2.05,"l":2.05,"m":2.0,"n":2.0,"o":2.05,"p":2.1,"q":2.15},
{"s":6,"a":2.45,"b":2.4,"c":2.35,"d":2.35,"e":2.35,"f":2.4,"g":2.4,"h":2.4,"i":2.45,"j":2.5,"k":2.55,"l":2.5,"m":2.45,"n":2.45,"o":2.45,"p":2.45,"q":2.5},
{"s":7,"a":2.6,"b":2.45,"c":2.3,"d":2.25,"e":2.4,"f":2.4,"g":2.45,"h":2.5,"i":2.5,"j":2.5,"k":2.5,"l":2.45,"m":2.45,"n":2.35,"o":2.45,"p":2.55,"q":2.65},
{"s":8,"a":0.95,"b":0.95,"c":1.0,"d":1.0,"e":1.0,"f":1.05,"g":1.05,"h":1.05,"i":1.05,"j":1.0,"k":1.0,"l":1.0,"m":0.95,"n":0.95,"o":0.9,"p":0.9,"q":0.85},
{"s":9,"a":1.2,"b":1.35,"c":1.5,"d":1.55,"e":1.55,"f":1.5,"g":1.45,"h":1.4,"i":1.4,"j":1.35,"k":1.35,"l":1.3,"m":1.3,"n":1.25,"o":1.25,"p":1.2,"q":1.2},
{"s":10,"a":0.3,"b":0.35,"c":0.4,"d":0.45,"e":0.5,"f":0.5,"g":0.55,"h":0.55,"i":0.6,"j":0.6,"k":0.65,"l":0.7,"m":0.75,"n":0.8,"o":0.85,"p":0.9,"q":0.95},
{"s":11,"a":0.9,"b":0.85,"c":0.8,"d":0.8,"e":0.75,"f":0.75,"g":0.7,"h":0.7,"i":0.65,"j":0.6,"k":0.6,"l":0.55,"m":0.55,"n":0.5,"o":0.5,"p":0.45,"q":0.45},
{"s":12,"a":-1.85,"b":-1.7,"c":-1.6,"d":-1.5,"e":-1.5,"f":-1.5,"g":-1.55,"h":-1.6,"i":-1.75,"j":-1.8,"k":-1.85,"l":-1.95,"m":-2.0,"n":-1.95,"o":-1.9,"p":-1.85,"q":-1.8},
{"s":13,"a":2.3,"b":2.1,"c":1.95,"d":1.8,"e":1.8,"f":1.85,"g":1.85,"h":1.85,"i":1.85,"j":1.85,"k":1.8,"l":1.8,"m":1.75,"n":1.75,"o":1.75,"p":1.8,"q":1.8},
{"s":14,"a":1.8,"b":1.75,"c":1.7,"d":1.65,"e":1.6,"f":1.55,"g":1.5,"h":1.45,"i":1.4,"j":1.4,"k":1.35,"l":1.35,"m":1.3,"n":1.3,"o":1.25,"p":1.25,"q":1.2},
{"s":15,"a":0.1,"b":0.1,"c":0.05,"d":0.05,"e":0.0,"f":0.0,"g":-0.05,"h":-0.05,"i":-0.1,"j":-0.1,"k":-0.15,"l":-0.15,"m":-0.2,"n":-0.2,"o":-0.25,"p":-0.25,"q":-0.3},
{"s":16,"a":-0.3,"b":-0.3,"c":-0.25,"d":-0.25,"e":-0.2,"f":-0.2,"g":-0.2,"h":-0.25,"i":-0.3,"j":-0.35,"k":-0.4,"l":-0.45,"m":-0.5,"n":-0.55,"o":-0.6,"p":-0.6,"q":-0.65},
{"s":17,"a":1.0,"b":0.95,"c":0.9,"d":0.85,"e":0.85,"f":0.8,"g":0.8,"h":0.8,"i":0.75,"j":0.75,"k":0.75,"l":0.7,"m":0.7,"n":0.7,"o":0.65,"p":0.65,"q":0.6},
{"s":18,"a":-0.6,"b":-0.65,"c":-0.7,"d":-0.75,"e":-0.8,"f":-0.85,"g":-0.9,"h":-0.95,"i":-1.0,"j":-1.0,"k":-1.05,"l":-1.05,"m":-1.1,"n":-1.1,"o":-1.15,"p":-1.15,"q":-1.2},
{"s":19,"a":0.7,"b":0.7,"c":0.65,"d":0.6,"e":0.55,"f":0.5,"g":0.45,"h":0.4,"i":0.35,"j":0.3,"k":0.25,"l":0.2,"m":0.15,"n":0.1,"o":0.05,"p":0.0,"q":-0.05},
{"s":20,"a":-2.0,"b":-2.05,"c":-2.15,"d":-2.25,"e":-2.25,"f":-2.25,"g":-2.2,"h":-2.2,"i":-2.2,"j":-2.2,"k":-2.25,"l":-2.25,"m":-2.25,"n":-2.2,"o":-2.25,"p":-2.3,"q":-2.3},
{"s":21,"a":-1.2,"b":-1.2,"c":-1.25,"d":-1.25,"e":-1.3,"f":-1.3,"g":-1.35,"h":-1.35,"i":-1.3,"j":-1.3,"k":-1.25,"l":-1.25,"m":-1.2,"n":-1.2,"o":-1.25,"p":-1.3,"q":-1.35},
{"s":22,"a":-0.9,"b":-0.95,"c":-1.0,"d":-1.05,"e":-1.1,"f":-1.1,"g":-1.1,"h":-1.05,"i":-1.05,"j":-1.0,"k":-1.0,"l":-0.95,"m":-0.95,"n":-1.0,"o":-1.05,"p":-1.1,"q":-1.15},
{"s":23,"a":-1.65,"b":-1.7,"c":-1.75,"d":-1.8,"e":-1.8,"f":-1.8,"g":-1.8,"h":-1.8,"i":-1.75,"j":-1.75,"k":-1.7,"l":-1.7,"m":-1.65,"n":-1.65,"o":-1.6,"p":-1.6,"q":-1.6},
{"s":24,"a":0.5,"b":0.45,"c":0.4,"d":0.35,"e":0.3,"f":0.25,"g":0.2,"h":0.15,"i":0.1,"j":0.05,"k":0.0,"l":-0.05,"m":-0.1,"n":-0.15,"o":-0.2,"p":-0.25,"q":-0.3},
{"s":25,"a":-1.4,"b":-1.35,"c":-1.3,"d":-1.25,"e":-1.2,"f":-1.15,"g":-1.1,"h":-1.1,"i":-1.1,"j":-1.15,"k":-1.2,"l":-1.25,"m":-1.3,"n":-1.4,"o":-1.5,"p":-1.6,"q":-1.7},
{"s":26,"a":0.2,"b":0.2,"c":0.25,"d":0.25,"e":0.3,"f":0.3,"g":0.3,"h":0.25,"i":0.25,"j":0.2,"k":0.2,"l":0.15,"m":0.1,"n":0.05,"o":0.0,"p":-0.05,"q":-0.1},
{"s":27,"a":-0.5,"b":-0.45,"c":-0.4,"d":-0.35,"e":-0.3,"f":-0.3,"g":-0.35,"h":-0.4,"i":-0.45,"j":-0.5,"k":-0.55,"l":-0.6,"m":-0.65,"n":-0.7,"o":-0.75,"p":-0.8,"q":-0.85},
{"s":28,"a":0.75,"b":0.8,"c":0.85,"d":0.85,"e":0.9,"f":0.9,"g":0.9,"h":0.9,"i":0.85,"j":0.85,"k":0.8,"l":0.8,"m":0.75,"n":0.7,"o":0.65,"p":0.6,"q":0.55},
{"s":29,"a":-1.3,"b":-1.35,"c":-1.35,"d":-1.4,"e":-1.4,"f":-1.4,"g":-1.4,"h":-1.45,"i":-1.45,"j":-1.5,"k":-1.5,"l":-1.5,"m":-1.55,"n":-1.55,"o":-1.6,"p":-1.6,"q":-1.6},
{"s":30,"a":0.0,"b":-0.05,"c":-0.1,"d":-0.1,"e":-0.15,"f":-0.15,"g":-0.2,"h":-0.2,"i":-0.2,"j":-0.25,"k":-0.25,"l":-0.25,"m":-0.3,"n":-0.3,"o":-0.3,"p":-0.35,"q":-0.35},
{"s":31,"a":-1.0,"b":-0.95,"c":-0.9,"d":-0.85,"e":-0.8,"f":-0.75,"g":-0.75,"h":-0.7,"i":-0.7,"j":-0.65,"k":-0.65,"l":-0.6,"m":-0.6,"n":-0.55,"o":-0.55,"p":-0.5,"q":-0.5},
{"s":32,"a":0.35,"b":0.3,"c":0.3,"d":0.25,"e":0.25,"f":0.2,"g":0.15,"h":0.1,"i":0.05,"j":0.0,"k":-0.05,"l":-0.1,"m":-0.15,"n":-0.15,"o":-0.2,"p":-0.2,"q":-0.25},
{"s":33,"a":-0.85,"b":-0.8,"c":-0.75,"d":-0.7,"e":-0.7,"f":-0.65,"g":-0.65,"h":-0.6,"i":-0.6,"j":-0.55,"k":-0.55,"l":-0.5,"m":-0.5,"n":-0.45,"o":-0.45,"p":-0.4,"q":-0.4},
{"s":34,"a":0.55,"b":0.5,"c":0.5,"d":0.45,"e":0.45,"f":0.4,"g":0.35,"h":0.3,"i":0.25,"j":0.2,"k":0.15,"l":0.1,"m":0.05,"n":0.0,"o":-0.05,"p":-0.1,"q":-0.1},
{"s":35,"a":-0.15,"b":-0.2,"c":-0.25,"d":-0.3,"e":-0.35,"f":-0.4,"g":-0.45,"h":-0.5,"i":-0.5,"j":-0.55,"k":-0.6,"l":-0.65,"m":-0.7,"n":-0.75,"o":-0.8,"p":-0.85,"q":-0.9},
{"s":36,"a":1.2,"b":1.2,"c":1.15,"d":1.15,"e":1.1,"f":1.1,"g":1.05,"h":1.0,"i":1.0,"j":0.95,"k":0.95,"l":0.9,"m":0.9,"n":0.85,"o":0.85,"p":0.8,"q":0.8},
{"s":37,"a":-1.1,"b":-1.1,"c":-1.15,"d":-1.2,"e":-1.2,"f":-1.25,"g":-1.25,"h":-1.3,"i":-1.3,"j":-1.35,"k":-1.35,"l":-1.4,"m":-1.4,"n":-1.45,"o":-1.45,"p":-1.5,"q":-1.5},
{"s":38,"a":0.85,"b":0.8,"c":0.75,"d":0.7,"e":0.7,"f":0.65,"g":0.65,"h":0.6,"i":0.6,"j":0.55,"k":0.55,"l":0.5,"m":0.5,"n":0.45,"o":0.45,"p":0.4,"q":0.4},
{"s":39,"a":-0.25,"b":-0.3,"c":-0.35,"d":-0.4,"e":-0.45,"f":-0.5,"g":-0.55,"h":-0.6,"i":-0.65,"j":-0.7,"k":-0.75,"l":-0.8,"m":-0.85,"n":-0.9,"o":-0.95,"p":-1.0,"q":-1.05},
{"s":40,"a":-1.55,"b":-1.5,"c":-1.45,"d":-1.45,"e":-1.4,"f":-1.35,"g":-1.35,"h":-1.3,"i":-1.3,"j":-1.3,"k":-1.35,"l":-1.35,"m":-1.4,"n":-1.4,"o":-1.45,"p":-1.5,"q":-1.55},
{"s":41,"a":-0.7,"b":-0.75,"c":-0.8,"d":-0.85,"e":-0.9,"f":-0.9,"g":-0.95,"h":-0.95,"i":-1.0,"j":-1.0,"k":-1.05,"l":-1.05,"m":-1.1,"n":-1.1,"o":-1.15,"p":-1.15,"q":-1.2},
{"s":42,"a":0.15,"b":0.15,"c":0.1,"d":0.1,"e":0.05,"f":0.05,"g":0.0,"h":0.0,"i":-0.05,"j":-0.05,"k":-0.1,"l":-0.1,"m":-0.15,"n":-0.15,"o":-0.2,"p":-0.2,"q":-0.25}
]
},
"vconcat":[
{"hconcat":[
{"width":500,"height":392,"data":{"name":"p1"},
"transform":[{"fold":["a","b","c","d","e","f","g","h","i","j","k","l","m","n","o","p","q"],"as":["key","v"]},{"lookup":"key","from":{"data":{"name":"taus"},"key":"key","fields":["t"]}}],
"layer":[
{"mark":{"type":"line","strokeWidth":1,"clip":true},"encoding":{
"x":{"field":"t","type":"quantitative","scale":{"domain":[0.1,0.9],"nice":false},"axis":{"orient":"bottom","values":[0.1,0.2,0.3,0.4,0.5,0.6,0.7,0.8,0.9],"format":".1f","title":"τ"}},
"y":{"field":"v","type":"quantitative","scale":{"domain":[-9,9],"nice":false},"axis":{"orient":"left","values":[-8,-6,-4,-2,0,2,4,6,8],"labelExpr":"''+datum.value","title":null}},
"color":{"field":"s","type":"nominal","scale":{"range":["#0072BD","#D95319","#EDB120","#7E2F8E","#77AC30","#4DBEEE","#A2142F"]},"legend":null}}},
{"mark":{"type":"line","strokeOpacity":0},"encoding":{
"x":{"field":"t","type":"quantitative","scale":{"domain":[0.1,0.9],"nice":false},"axis":{"orient":"top","values":[0.1,0.2,0.3,0.4,0.5,0.6,0.7,0.8,0.9],"labels":false,"title":null}},
"y":{"field":"v","type":"quantitative","scale":{"domain":[-9,9],"nice":false},"axis":{"orient":"right","values":[-8,-6,-4,-2,0,2,4,6,8],"labels":false,"title":null}},
"detail":{"field":"s"}}}],
"resolve":{"axis":{"x":"independent","y":"independent"}}},
{"width":500,"height":392,"data":{"name":"p2"},
"transform":[{"fold":["a","b","c","d","e","f","g","h","i","j","k","l","m","n","o","p","q"],"as":["key","v"]},{"lookup":"key","from":{"data":{"name":"taus"},"key":"key","fields":["t"]}}],
"layer":[
{"mark":{"type":"line","strokeWidth":1,"clip":true},"encoding":{
"x":{"field":"t","type":"quantitative","scale":{"domain":[0.1,0.9],"nice":false},"axis":{"orient":"bottom","values":[0.1,0.2,0.3,0.4,0.5,0.6,0.7,0.8,0.9],"format":".1f","title":"τ"}},
"y":{"field":"v","type":"quantitative","scale":{"domain":[-9,9],"nice":false},"axis":{"orient":"left","values":[-8,-6,-4,-2,0,2,4,6,8],"labelExpr":"''+datum.value","title":null}},
"color":{"field":"s","type":"nominal","scale":{"range":["#0072BD","#D95319","#EDB120","#7E2F8E","#77AC30","#4DBEEE","#A2142F"]},"legend":null}}},
{"mark":{"type":"line","strokeOpacity":0},"encoding":{
"x":{"field":"t","type":"quantitative","scale":{"domain":[0.1,0.9],"nice":false},"axis":{"orient":"top","values":[0.1,0.2,0.3,0.4,0.5,0.6,0.7,0.8,0.9],"labels":false,"title":null}},
"y":{"field":"v","type":"quantitative","scale":{"domain":[-9,9],"nice":false},"axis":{"orient":"right","values":[-8,-6,-4,-2,0,2,4,6,8],"labels":false,"title":null}},
"detail":{"field":"s"}}}],
"resolve":{"axis":{"x":"independent","y":"independent"}}}
]},
{"hconcat":[
{"width":500,"height":392,"data":{"name":"p3"},
"transform":[{"fold":["a","b","c","d","e","f","g","h","i","j","k","l","m","n","o","p","q"],"as":["key","v"]},{"lookup":"key","from":{"data":{"name":"taus"},"key":"key","fields":["t"]}}],
"layer":[
{"mark":{"type":"line","strokeWidth":1,"clip":true},"encoding":{
"x":{"field":"t","type":"quantitative","scale":{"domain":[0.1,0.9],"nice":false},"axis":{"orient":"bottom","values":[0.1,0.2,0.3,0.4,0.5,0.6,0.7,0.8,0.9],"format":".1f","title":"τ"}},
"y":{"field":"v","type":"quantitative","scale":{"domain":[-9,9],"nice":false},"axis":{"orient":"left","values":[-8,-6,-4,-2,0,2,4,6,8],"labelExpr":"''+datum.value","title":null}},
"color":{"field":"s","type":"nominal","scale":{"range":["#0072BD","#D95319","#EDB120","#7E2F8E","#77AC30","#4DBEEE","#A2142F"]},"legend":null}}},
{"mark":{"type":"line","strokeOpacity":0},"encoding":{
"x":{"field":"t","type":"quantitative","scale":{"domain":[0.1,0.9],"nice":false},"axis":{"orient":"top","values":[0.1,0.2,0.3,0.4,0.5,0.6,0.7,0.8,0.9],"labels":false,"title":null}},
"y":{"field":"v","type":"quantitative","scale":{"domain":[-9,9],"nice":false},"axis":{"orient":"right","values":[-8,-6,-4,-2,0,2,4,6,8],"labels":false,"title":null}},
"detail":{"field":"s"}}}],
"resolve":{"axis":{"x":"independent","y":"independent"}}},
{"width":500,"height":392,"data":{"name":"p4"},
"transform":[{"fold":["a","b","c","d","e","f","g","h","i","j","k","l","m","n","o","p","q"],"as":["key","v"]},{"lookup":"key","from":{"data":{"name":"taus"},"key":"key","fields":["t"]}}],
"layer":[
{"mark":{"type":"line","strokeWidth":1,"clip":true},"encoding":{
"x":{"field":"t","type":"quantitative","scale":{"domain":[0.1,0.9],"nice":false},"axis":{"orient":"bottom","values":[0.1,0.2,0.3,0.4,0.5,0.6,0.7,0.8,0.9],"format":".1f","title":"τ"}},
"y":{"field":"v","type":"quantitative","scale":{"domain":[-9,9],"nice":false},"axis":{"orient":"left","values":[-8,-6,-4,-2,0,2,4,6,8],"labelExpr":"''+datum.value","title":null}},
"color":{"field":"s","type":"nominal","scale":{"range":["#0072BD","#D95319","#EDB120","#7E2F8E","#77AC30","#4DBEEE","#A2142F"]},"legend":null}}},
{"mark":{"type":"line","strokeOpacity":0},"encoding":{
"x":{"field":"t","type":"quantitative","scale":{"domain":[0.1,0.9],"nice":false},"axis":{"orient":"top","values":[0.1,0.2,0.3,0.4,0.5,0.6,0.7,0.8,0.9],"labels":false,"title":null}},
"y":{"field":"v","type":"quantitative","scale":{"domain":[-9,9],"nice":false},"axis":{"orient":"right","values":[-8,-6,-4,-2,0,2,4,6,8],"labels":false,"title":null}},
"detail":{"field":"s"}}}],
"resolve":{"axis":{"x":"independent","y":"independent"}}}
]}
],
"spacing":80
}
